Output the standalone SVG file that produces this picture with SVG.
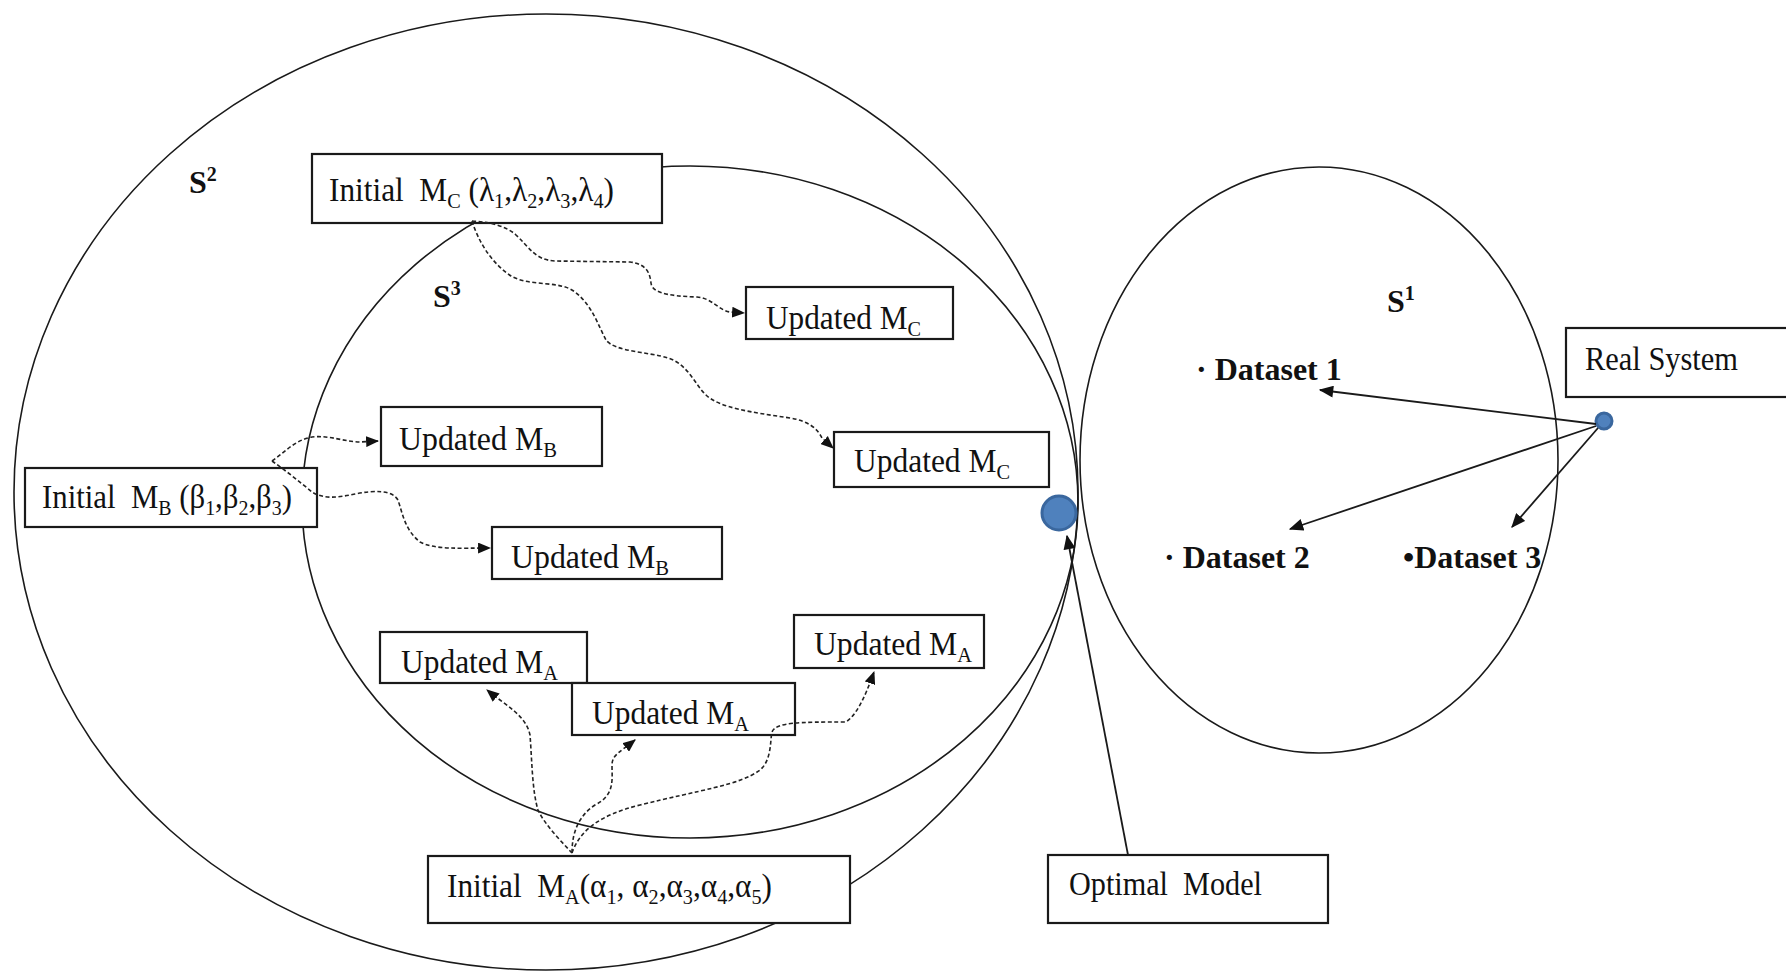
<svg xmlns="http://www.w3.org/2000/svg" width="1786" height="977" viewBox="0 0 1786 977">
<style>
.ell{fill:none;stroke:#1a1a1a;stroke-width:1.6}
.box{fill:#fff;stroke:#1a1a1a;stroke-width:2.2}
.t{font-family:"Liberation Serif","Times New Roman",serif;font-size:34px;fill:#111}
.b{font-family:"Liberation Serif","Times New Roman",serif;font-size:32px;font-weight:bold;fill:#111}
.dash{fill:none;stroke:#222;stroke-width:1.6;stroke-dasharray:4 2.5;marker-end:url(#ah)}
.solid{fill:none;stroke:#1a1a1a;stroke-width:1.8;marker-end:url(#ah2)}
.dot{fill:#4f81bd;stroke:#3a679e;stroke-width:3}
</style>
<defs>
<marker id="ah" viewBox="0 0 12 10" refX="11" refY="5" markerWidth="13" markerHeight="11" markerUnits="userSpaceOnUse" orient="auto">
<path d="M0,0 L12,5 L0,10 z" fill="#111"/>
</marker>
<marker id="ah2" viewBox="0 0 12 10" refX="11" refY="5" markerWidth="15" markerHeight="12" markerUnits="userSpaceOnUse" orient="auto">
<path d="M0,0 L12,5 L0,10 z" fill="#111"/>
</marker>
</defs>
<rect width="1786" height="977" fill="#fff"/>

<g id="sets">
<ellipse id="S2" class="ell" cx="546" cy="492" rx="532" ry="478"/>
<ellipse id="S3" class="ell" cx="690" cy="502" rx="388" ry="336"/>
<ellipse id="S1" class="ell" cx="1319" cy="460" rx="239" ry="293"/>
<text class="b" x="189" y="193">S<tspan font-size="20" dy="-12">2</tspan></text>
<text class="b" x="433" y="307">S<tspan font-size="20" dy="-12">3</tspan></text>
<text class="b" x="1387" y="312">S<tspan font-size="20" dy="-12">1</tspan></text>
</g>

<g id="initial-mc">
<rect class="box" x="312" y="154" width="350" height="69"/>
<text class="t" x="329" y="201" textLength="285" lengthAdjust="spacingAndGlyphs">Initial&#160; M<tspan font-size="22" dy="7">C</tspan><tspan dy="-7"> (λ</tspan><tspan font-size="22" dy="7">1</tspan><tspan dy="-7">,λ</tspan><tspan font-size="22" dy="7">2</tspan><tspan dy="-7">,λ</tspan><tspan font-size="22" dy="7">3</tspan><tspan dy="-7">,λ</tspan><tspan font-size="22" dy="7">4</tspan><tspan dy="-7">)</tspan></text>
</g>

<g id="updated-mc-1">
<rect class="box" x="746" y="287" width="207" height="52"/>
<text class="t" x="766" y="329" textLength="155" lengthAdjust="spacingAndGlyphs">Updated M<tspan font-size="22" dy="7">C</tspan></text>
</g>

<g id="updated-mc-2">
<rect class="box" x="834" y="432" width="215" height="55"/>
<text class="t" x="854" y="472" textLength="156" lengthAdjust="spacingAndGlyphs">Updated M<tspan font-size="22" dy="7">C</tspan></text>
</g>

<g id="updated-mb-1">
<rect class="box" x="381" y="407" width="221" height="59"/>
<text class="t" x="399" y="450" textLength="158" lengthAdjust="spacingAndGlyphs">Updated M<tspan font-size="22" dy="7">B</tspan></text>
</g>

<g id="initial-mb">
<rect class="box" x="25" y="468" width="292" height="59"/>
<text class="t" x="42" y="508" textLength="250" lengthAdjust="spacingAndGlyphs">Initial&#160; M<tspan font-size="22" dy="7">B</tspan><tspan dy="-7"> (β</tspan><tspan font-size="22" dy="7">1</tspan><tspan dy="-7">,β</tspan><tspan font-size="22" dy="7">2</tspan><tspan dy="-7">,β</tspan><tspan font-size="22" dy="7">3</tspan><tspan dy="-7">)</tspan></text>
</g>

<g id="updated-mb-2">
<rect class="box" x="492" y="527" width="230" height="52"/>
<text class="t" x="511" y="568" textLength="158" lengthAdjust="spacingAndGlyphs">Updated M<tspan font-size="22" dy="7">B</tspan></text>
</g>

<g id="updated-ma-1">
<rect class="box" x="380" y="632" width="207" height="51"/>
<text class="t" x="401" y="673" textLength="157" lengthAdjust="spacingAndGlyphs">Updated M<tspan font-size="22" dy="7">A</tspan></text>
</g>

<g id="updated-ma-2">
<rect class="box" x="572" y="683" width="223" height="52"/>
<text class="t" x="592" y="724" textLength="157" lengthAdjust="spacingAndGlyphs">Updated M<tspan font-size="22" dy="7">A</tspan></text>
</g>

<g id="updated-ma-3">
<rect class="box" x="794" y="615" width="190" height="53"/>
<text class="t" x="814" y="655" textLength="158" lengthAdjust="spacingAndGlyphs">Updated M<tspan font-size="22" dy="7">A</tspan></text>
</g>

<g id="initial-ma">
<rect class="box" x="428" y="856" width="422" height="67"/>
<text class="t" x="447" y="897" textLength="325" lengthAdjust="spacingAndGlyphs">Initial&#160; M<tspan font-size="22" dy="7">A</tspan><tspan dy="-7">(α</tspan><tspan font-size="22" dy="7">1</tspan><tspan dy="-7">, α</tspan><tspan font-size="22" dy="7">2</tspan><tspan dy="-7">,α</tspan><tspan font-size="22" dy="7">3</tspan><tspan dy="-7">,α</tspan><tspan font-size="22" dy="7">4</tspan><tspan dy="-7">,α</tspan><tspan font-size="22" dy="7">5</tspan><tspan dy="-7">)</tspan></text>
</g>

<g id="optimal-model">
<rect class="box" x="1048" y="855" width="280" height="68"/>
<text class="t" x="1069" y="895" textLength="193" lengthAdjust="spacingAndGlyphs">Optimal&#160; Model</text>
<circle class="dot" cx="1059" cy="513" r="17"/>
</g>

<g id="real-system">
<rect class="box" x="1566" y="328" width="230" height="69"/>
<text class="t" x="1585" y="370" textLength="153" lengthAdjust="spacingAndGlyphs">Real System</text>
<circle class="dot" cx="1604" cy="421" r="8" stroke-width="2.5"/>
</g>

<g id="datasets">
<text class="b" x="1196" y="380">· Dataset 1</text>
<text class="b" x="1164" y="568">· Dataset 2</text>
<text class="b" x="1403" y="568">•Dataset 3</text>
</g>

<g id="connectors">
<path class="dash" d="M472,221 C490,222 505,226 515,234 C530,248 535,260 555,261 L630,262 C648,264 650,275 651,283 C652,292 665,296 697,297 C712,298 718,310 730,312 L744,313"/>
<path class="dash" d="M472,221 C478,240 490,262 511,276 C530,287 560,280 575,292 C592,305 598,325 606,340 C615,352 650,352 668,358 C688,364 695,385 706,395 C720,408 750,412 790,418 C810,421 818,430 822,438 L833,448"/>
<path class="dash" d="M272,461 C285,452 295,440 312,437 C330,435 345,442 360,442 L378,441"/>
<path class="dash" d="M272,461 C285,470 300,482 312,492 C325,500 340,497 355,494 C375,490 392,490 398,500 C403,515 405,530 420,542 C435,550 460,548 490,548"/>
<path class="dash" d="M572,853 C560,840 545,825 538,810 C532,790 532,760 530,735 C526,715 505,705 487,690"/>
<path class="dash" d="M572,853 C572,830 580,815 595,805 C615,795 612,780 612,765 C612,755 620,752 635,740"/>
<path class="dash" d="M572,853 C580,830 600,815 640,805 C700,790 740,785 760,770 C772,760 770,740 772,732 C776,722 800,722 846,722 C856,715 864,700 874,672"/>
<path class="solid" d="M1128,855 L1067,536"/>
<path class="solid" d="M1596,424 L1320,390"/>
<path class="solid" d="M1596,426 L1290,529"/>
<path class="solid" d="M1598,428 L1512,527"/>
</g>
</svg>
